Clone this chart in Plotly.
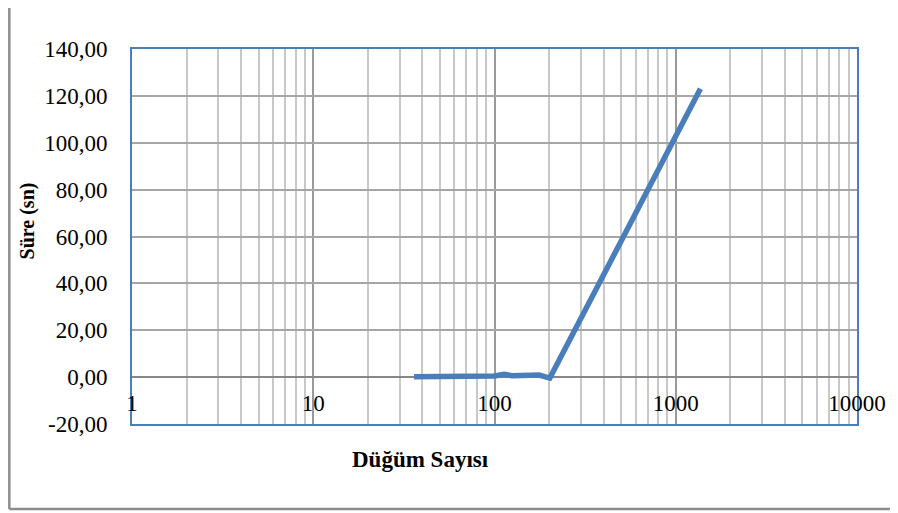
import plotly.graph_objects as go

nodes = [36, 100, 113, 125, 176, 202, 1368]
times = [0.2, 0.5, 1.2, 0.6, 0.9, -0.4, 123.0]

x_ticks = [1, 10, 100, 1000, 10000]
x_tick_labels = ["1", "10", "100", "1000", "10000"]
y_ticks = [-20, 0, 20, 40, 60, 80, 100, 120, 140]
y_tick_labels = ["-20,00", "0,00", "20,00", "40,00", "60,00", "80,00", "100,00", "120,00", "140,00"]

FONT = "Liberation Serif"
BLUE = "#4a7ebb"

fig = go.Figure()
fig.add_trace(go.Scatter(x=nodes, y=times, mode="lines",
                         line=dict(color=BLUE, width=5.5), xaxis="x", yaxis="y",
                         showlegend=False, hoverinfo="skip"))
# invisible helper trace so the label axis is drawn
fig.add_trace(go.Scatter(x=[1, 10000], y=[0, 0], mode="lines", line=dict(width=0),
                         opacity=0, xaxis="x2", yaxis="y", showlegend=False, hoverinfo="skip"))

fig.update_layout(
    width=890, height=505,
    margin=dict(l=124, r=39, t=41, b=89),
    paper_bgcolor="white", plot_bgcolor="white",
    font=dict(family=FONT, size=23, color="black"),
    xaxis=dict(type="log", range=[0, 4], dtick=1, showticklabels=False, ticks="",
               showgrid=True, gridcolor="#9a9a9a", gridwidth=2,
               minor=dict(showgrid=True, gridcolor="#c8c8c8", gridwidth=2, ticks=""),
               showline=True, linecolor=BLUE, linewidth=2, mirror=True,
               zeroline=False),
    xaxis2=dict(type="log", range=[0, 4], overlaying="x", anchor="free", position=0.1,
                side="bottom", tickvals=x_ticks, ticktext=x_tick_labels, ticks="",
                showgrid=False, showline=False, zeroline=False,
                tickfont=dict(family=FONT, size=23, color="black")),
    yaxis=dict(range=[-20, 140], tickvals=y_ticks, ticktext=y_tick_labels, ticks="",
               showgrid=True, gridcolor="#a6a6a6", gridwidth=2,
               zeroline=True, zerolinecolor="#878787", zerolinewidth=2,
               showline=True, linecolor=BLUE, linewidth=2, mirror=True,
               ticklabelstandoff=18,
               tickfont=dict(family=FONT, size=23, color="black")),
    annotations=[
        dict(text="<b>Düğüm Sayısı</b>", xref="paper", yref="paper",
             x=0.3975, y=-0.095, xanchor="center", yanchor="middle", showarrow=False,
             font=dict(family=FONT, size=23, color="black")),
        dict(text="<b>Süre (sn)</b>", xref="paper", yref="paper",
             x=-0.1444, y=0.541, xanchor="center", yanchor="middle", showarrow=False,
             textangle=-90, font=dict(family=FONT, size=20, color="black")),
    ],
    shapes=[
        dict(type="line", xref="paper", yref="paper", x0=-0.1692, x1=-0.1692, y0=-0.2267, y1=1.2,
             line=dict(color="#8c8c8c", width=2.5)),
        dict(type="line", xref="paper", yref="paper", x0=-0.1692, x1=1.1, y0=-0.2267, y1=-0.2267,
             line=dict(color="#8c8c8c", width=2.5)),
    ],
)

fig.write_html("out.html")
